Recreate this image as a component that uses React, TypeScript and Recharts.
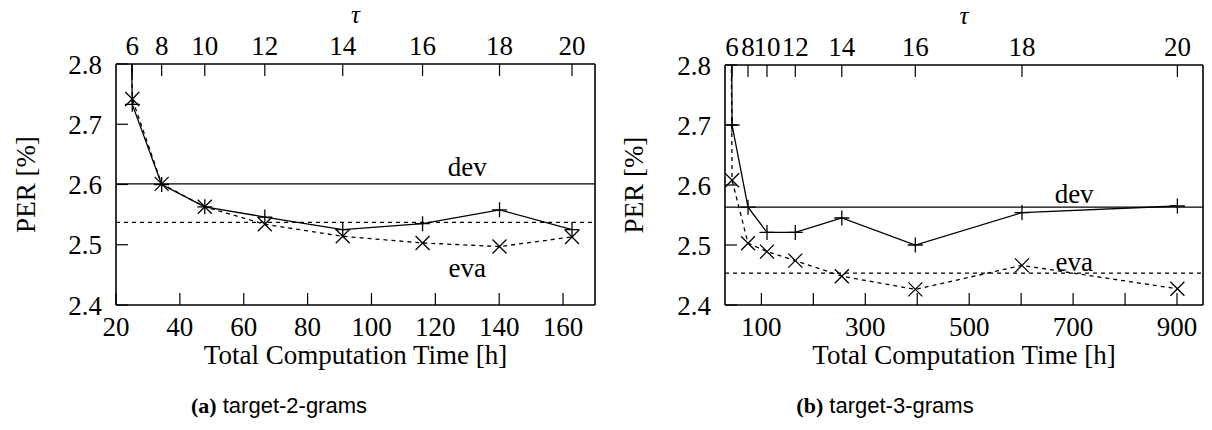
import React from 'react';
import { LineChart, Line, XAxis, YAxis, ReferenceLine, ReferenceDot } from 'recharts';

// ---- data (a) target-2-grams ----
const leftHours = [20, 25.1, 34.3, 47.8, 66.6, 91, 116, 140.1, 162.8];
const leftDev = [4.45, 2.733, 2.6, 2.563, 2.546, 2.525, 2.535, 2.558, 2.525];
const leftEva = [4.4, 2.742, 2.601, 2.563, 2.534, 2.514, 2.503, 2.497, 2.513];
const leftDevRef = 2.601;
const leftEvaRef = 2.537;
const leftXTicks = [20, 40, 60, 80, 100, 120, 140, 160];
const leftTauHours = [25.1, 34.3, 47.8, 66.6, 91, 116, 140.1, 162.8];
const leftTauLabels = ['6', '8', '10', '12', '14', '16', '18', '20'];

// ---- data (b) target-3-grams ----
const rightHours = [32, 43.6, 74.3, 110.8, 165.3, 254.8, 396.3, 601.6, 900.7];
const rightDev = [4.7, 2.7, 2.563, 2.521, 2.521, 2.545, 2.5, 2.554, 2.565];
const rightEva = [4.3, 2.608, 2.503, 2.489, 2.474, 2.448, 2.426, 2.466, 2.427];
const rightDevRef = 2.563;
const rightEvaRef = 2.453;
const rightXTicks = [100, 200, 300, 400, 500, 600, 700, 800, 900];
const rightXLabels = ['100', '', '300', '', '500', '', '700', '', '900'];
const rightTauHours = [43.6, 74.3, 110.8, 165.3, 254.8, 396.3, 601.6, 900.7];
const rightTauLabels = ['6', '8', '10', '12', '14', '16', '18', '20'];

const yTicks = [2.4, 2.5, 2.6, 2.7, 2.8];

const SERIF = 'serif';
const FS = 27;

const PlusDot = (props: any) => {
  const { cx, cy, index } = props;
  if (cx == null || cy == null) return <g key={`p${index}`} />;
  const a = 7.5;
  return (
    <path key={`p${index}`} d={`M${cx - a},${cy}H${cx + a}M${cx},${cy - a}V${cy + a}`} stroke="#000" strokeWidth={1.3} fill="none" />
  );
};

const CrossDot = (props: any) => {
  const { cx, cy, index } = props;
  if (cx == null || cy == null) return <g key={`x${index}`} />;
  const a = 7;
  return (
    <path key={`x${index}`} d={`M${cx - a},${cy - a}L${cx + a},${cy + a}M${cx - a},${cy + a}L${cx + a},${cy - a}`} stroke="#000" strokeWidth={1.3} fill="none" />
  );
};

const makeTick = (fmt: (v: number) => string) => (props: any) => {
  const { x, y, payload, textAnchor, verticalAnchor, index } = props;
  const dy = verticalAnchor === 'start' ? '0.71em' : verticalAnchor === 'end' ? '0' : '0.355em';
  return (
    <text key={`t${index}`} x={x} y={y} dy={dy} textAnchor={textAnchor} fill="#000" fontFamily={SERIF} fontSize={FS}>
      {fmt(payload.value)}
    </text>
  );
};

const axisLineStyle = { stroke: '#000', strokeWidth: 1.6 };
const tickLineStyle = { stroke: '#000', strokeWidth: 1.2 };

type PanelProps = {
  hours: number[];
  dev: number[];
  eva: number[];
  devRef: number;
  evaRef: number;
  xDomain: [number, number];
  xTicks: number[];
  xLabels?: string[];
  tauHours: number[];
  tauLabels: string[];
  labelX: number;
  devLabelY: number;
  evaLabelY: number;
  margin: { top: number; left: number; right: number; bottom: number };
  perDx: number;
};

function Panel(p: PanelProps) {
  const data = p.hours.map((h, i) => ({ h, dev: p.dev[i], eva: p.eva[i] }));
  const xFmt = (v: number) => {
    if (!p.xLabels) return String(v);
    const i = p.xTicks.indexOf(v);
    return i >= 0 ? p.xLabels[i] : '';
  };
  const tauFmt = (v: number) => {
    const i = p.tauHours.indexOf(v);
    return i >= 0 ? p.tauLabels[i] : '';
  };
  const yFmt = (v: number) => v.toFixed(1);
  const perLabel = (lp: any) => {
    const vb = lp.viewBox || { x: 0, y: 0, width: 0, height: 0 };
    const x = vb.x + vb.width + p.perDx;
    const y = vb.y + vb.height / 2;
    return (
      <text
        x={x}
        y={y}
        transform={`rotate(-90 ${x} ${y})`}
        textAnchor="middle"
        dominantBaseline="central"
        fill="#000"
        fontFamily={SERIF}
        fontSize={FS}
      >
        PER [%]
      </text>
    );
  };
  return (
    <LineChart width={606} height={430} data={data} margin={p.margin}>
      <XAxis
        xAxisId="b"
        type="number"
        dataKey="h"
        domain={p.xDomain}
        allowDataOverflow
        ticks={p.xTicks}
        interval={0}
        height={1}
        tickSize={-12}
        tickMargin={24}
        tick={makeTick(xFmt)}
        axisLine={axisLineStyle}
        tickLine={tickLineStyle}
        label={{ value: 'Total Computation Time [h]', position: 'bottom', offset: 39, fill: '#000', fontSize: FS, fontFamily: SERIF }}
      />
      <XAxis
        xAxisId="t"
        orientation="top"
        type="number"
        dataKey="h"
        domain={p.xDomain}
        allowDataOverflow
        ticks={p.tauHours}
        interval={0}
        height={1}
        tickSize={-12}
        tickMargin={21}
        tick={makeTick(tauFmt)}
        axisLine={axisLineStyle}
        tickLine={tickLineStyle}
        label={{ value: 'τ', position: 'top', offset: 40, fill: '#000', fontSize: 25, fontFamily: SERIF, fontStyle: 'italic' }}
      />
      <YAxis
        yAxisId="l"
        type="number"
        domain={[2.4, 2.8]}
        allowDataOverflow
        ticks={yTicks}
        interval={0}
        width={1}
        tickSize={-12}
        tickMargin={26}
        tick={makeTick(yFmt)}
        axisLine={axisLineStyle}
        tickLine={tickLineStyle}
        label={{ position: 'center', content: perLabel }}
      />
      <YAxis
        yAxisId="r"
        orientation="right"
        type="number"
        domain={[2.4, 2.8]}
        allowDataOverflow
        ticks={yTicks}
        interval={0}
        width={1}
        tickSize={-12}
        tick={false}
        axisLine={axisLineStyle}
        tickLine={tickLineStyle}
      />
      <ReferenceLine xAxisId="b" yAxisId="l" y={p.devRef} stroke="#000" strokeWidth={1.3} />
      <ReferenceLine xAxisId="b" yAxisId="l" y={p.evaRef} stroke="#000" strokeWidth={1.3} strokeDasharray="4 4" />
      <ReferenceDot
        xAxisId="b"
        yAxisId="l"
        x={p.labelX}
        y={p.devLabelY}
        r={0}
        fill="none"
        stroke="none"
        label={{ value: 'dev', position: 'center', fill: '#000', fontSize: FS, fontFamily: SERIF }}
      />
      <ReferenceDot
        xAxisId="b"
        yAxisId="l"
        x={p.labelX}
        y={p.evaLabelY}
        r={0}
        fill="none"
        stroke="none"
        label={{ value: 'eva', position: 'center', fill: '#000', fontSize: FS, fontFamily: SERIF }}
      />
      <Line
        xAxisId="b"
        yAxisId="l"
        type="linear"
        dataKey="eva"
        stroke="#000"
        strokeWidth={1.3}
        strokeDasharray="4 4"
        dot={CrossDot}
        activeDot={false}
        isAnimationActive={false}
      />
      <Line
        xAxisId="b"
        yAxisId="l"
        type="linear"
        dataKey="dev"
        stroke="#000"
        strokeWidth={1.3}
        dot={PlusDot}
        activeDot={false}
        isAnimationActive={false}
      />
    </LineChart>
  );
}

const captionStyle: React.CSSProperties = {
  position: 'absolute',
  top: 393,
  textAlign: 'center',
  fontSize: 22,
  color: '#000',
  whiteSpace: 'nowrap',
};

export default function App() {
  return (
    <div style={{ position: 'absolute', left: 0, top: 0, width: 1212, height: 430, background: '#fff', overflow: 'hidden', fontFamily: 'serif' }}>
      <div style={{ position: 'absolute', left: 0, top: 0 }}>
        <Panel
          hours={leftHours}
          dev={leftDev}
          eva={leftEva}
          devRef={leftDevRef}
          evaRef={leftEvaRef}
          xDomain={[20, 170]}
          xTicks={leftXTicks}
          tauHours={leftTauHours}
          tauLabels={leftTauLabels}
          labelX={130}
          devLabelY={2.63}
          evaLabelY={2.463}
          margin={{ top: 63, left: 115, right: 10, bottom: 124 }}
          perDx={-90}
        />
      </div>
      <div style={{ position: 'absolute', left: 606, top: 0 }}>
        <Panel
          hours={rightHours}
          dev={rightDev}
          eva={rightEva}
          devRef={rightDevRef}
          evaRef={rightEvaRef}
          xDomain={[30, 950]}
          xTicks={rightXTicks}
          xLabels={rightXLabels}
          tauHours={rightTauHours}
          tauLabels={rightTauLabels}
          labelX={702}
          devLabelY={2.586}
          evaLabelY={2.472}
          margin={{ top: 64, left: 118, right: 8, bottom: 124 }}
          perDx={-91}
        />
      </div>
      <div style={{ ...captionStyle, left: 0, width: 558 }}>
        <span style={{ fontFamily: 'serif', fontWeight: 'bold' }}>(a)</span>
        <span style={{ fontFamily: 'sans-serif' }}> target-2-grams</span>
      </div>
      <div style={{ ...captionStyle, left: 606, width: 558 }}>
        <span style={{ fontFamily: 'serif', fontWeight: 'bold' }}>(b)</span>
        <span style={{ fontFamily: 'sans-serif' }}> target-3-grams</span>
      </div>
    </div>
  );
}
